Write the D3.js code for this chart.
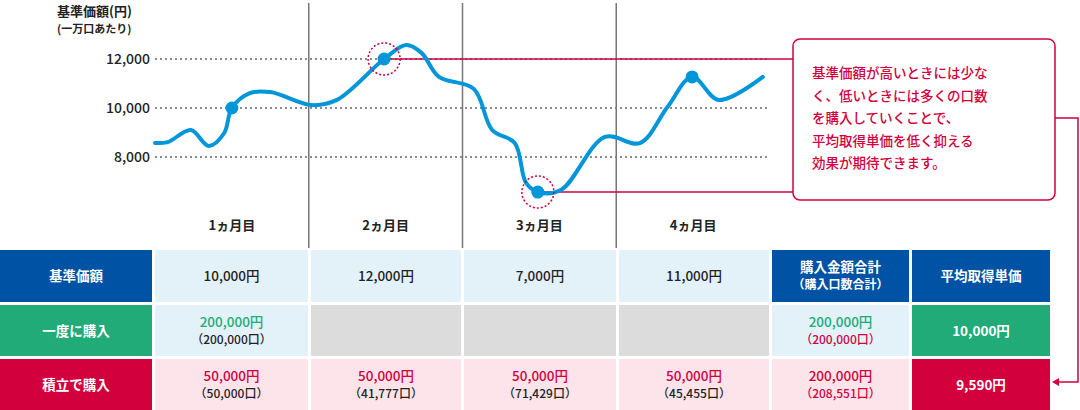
<!DOCTYPE html>
<html><head><meta charset="utf-8">
<script src="https://cdn.jsdelivr.net/npm/d3@7"></script>
<style>body{margin:0;background:#fff}svg{font-family:"Noto Sans CJK JP","Noto Sans",sans-serif}</style>
</head><body><svg id="c" width="1080" height="410"></svg>
<script>
const days=[0,2.5,7,10.5,13.5,15,18.5,22.5,30.5,35.5,44.7,49,52,55.4,62.2,65.8,70.2,72.4,74.7,79.2,87.8,94.6,100,104.8,110,118.6];
const prices=[8570,8610,9100,8450,8980,10000,10610,10650,10120,10330,12000,12570,12250,11270,10780,9100,8570,6940,6570,6650,8820,8570,10040,11270,10330,11270];
const buyDays=[15,44.7,74.7,104.8];
const buyPrices=[10000,12000,6570,11270];
const yTicks=[8000,10000,12000];
const monthLabels=["1ヵ月目","2ヵ月目","3ヵ月目","4ヵ月目"];
const monthBounds=[30,60,90];
const rowHeads=["基準価額","一度に購入","積立で購入"];
const rowBasePrice=["10,000円","12,000円","7,000円","11,000円"];
const lumpCells=[["200,000円","（200,000口）"],null,null,null];
const dcaCells=[["50,000円","（50,000口）"],["50,000円","（41,777口）"],["50,000円","（71,429口）"],["50,000円","（45,455口）"]];
const totals=[["購入金額合計","（購入口数合計）"],["200,000円","（200,000口）"],["200,000円","（208,551口）"]];
const avgs=["平均取得単価","10,000円","9,590円"];
const note=["基準価額が高いときには少な","く、低いときには多くの口数","を購入していくことで、","平均取得単価を低く抑える","効果が期待できます。"];

const BLUE="#0052a4",GREEN="#20ab78",RED="#d2003c",LB="#e3f1f9",PINK="#fde4eb",GRAY="#dcdcdc",LINE="#0096d9",TXT="#222";
const svg=d3.select("#c");
const x=d3.scaleLinear().domain([0,120]).range([155,770]);
const y=d3.scaleLinear().domain([8000,12000]).range([157,59]);

// grid
yTicks.forEach(v=>{
  svg.append("line").attr("x1",155).attr("x2",770).attr("y1",y(v)).attr("y2",y(v)).attr("stroke","#666").attr("stroke-width",1.5).attr("stroke-dasharray","2,3");
  svg.append("text").attr("x",150).attr("y",y(v)+5).attr("text-anchor","end").attr("font-size",14).attr("font-weight",500).attr("fill",TXT).text(d3.format(",")(v));
});
svg.append("text").attr("x",57).attr("y",16).attr("font-size",13).attr("font-weight",700).attr("fill",TXT).text("基準価額(円)");
svg.append("text").attr("x",57).attr("y",33).attr("font-size",11).attr("font-weight",700).attr("fill",TXT).text("(一万口あたり)");
monthBounds.forEach(d=>svg.append("line").attr("x1",x(d)).attr("x2",x(d)).attr("y1",3).attr("y2",248).attr("stroke","#777").attr("stroke-width",1.5));
monthLabels.forEach((m,i)=>svg.append("text").attr("x",x(15+30*i)).attr("y",230).attr("text-anchor","middle").attr("font-size",13).attr("font-weight",700).attr("fill",TXT).text(m));

// red connectors
svg.append("line").attr("x1",x(buyDays[1])).attr("x2",793).attr("y1",y(buyPrices[1])).attr("y2",y(buyPrices[1])).attr("stroke",RED).attr("stroke-width",1.5);
svg.append("line").attr("x1",x(buyDays[2])).attr("x2",793).attr("y1",y(buyPrices[2])).attr("y2",y(buyPrices[2])).attr("stroke",RED).attr("stroke-width",1.5);
svg.append("path").attr("d","M1055,118H1078V382H1058").attr("fill","none").attr("stroke",RED).attr("stroke-width",1.5);
svg.append("path").attr("d","M1052,382l7,-4v8z").attr("fill",RED);
svg.append("rect").attr("x",793).attr("y",39).attr("width",262).attr("height",161).attr("rx",7).attr("fill","#fff").attr("stroke",RED).attr("stroke-width",1.5);
note.forEach((t,i)=>svg.append("text").attr("x",812).attr("y",78+i*22.5).attr("font-size",13.5).attr("font-weight",500).attr("fill",RED).text(t));

// line
svg.append("path").datum(days.map((d,i)=>[d,prices[i]])).attr("d",d3.line().x(d=>x(d[0])).y(d=>y(d[1])).curve(d3.curveCatmullRom.alpha(0.5)))
  .attr("fill","none").attr("stroke",LINE).attr("stroke-width",4).attr("stroke-linecap","round");
[1,2].forEach(i=>svg.append("circle").attr("cx",x(buyDays[i])).attr("cy",y(buyPrices[i])).attr("r",16).attr("fill","none").attr("stroke",RED).attr("stroke-width",1.5).attr("stroke-dasharray","2,2"));
buyDays.forEach((d,i)=>svg.append("circle").attr("cx",x(d)).attr("cy",y(buyPrices[i])).attr("r",6.5).attr("fill",LINE));

// table
const cols=[[0,152],[155,153],[311,150],[464,152],[619,150],[772,137],[912,138]];
const rows=[[250,52],[305,51],[359,51]];
function cell(c,r,fill){svg.append("rect").attr("x",cols[c][0]).attr("y",rows[r][0]).attr("width",cols[c][1]).attr("height",rows[r][1]).attr("fill",fill);}
function txt(c,r,lines,color,w){
  const cx=cols[c][0]+cols[c][1]/2, cy=rows[r][0]+rows[r][1]/2;
  if(lines.length==1) svg.append("text").attr("x",cx).attr("y",cy+5).attr("text-anchor","middle").attr("font-size",13.5).attr("font-weight",w||500).attr("fill",color).text(lines[0]);
  else lines.forEach((l,k)=>svg.append("text").attr("x",cx).attr("y",cy-4+k*20-(k?3:0)).attr("text-anchor","middle").attr("font-size",k?12:13.5).attr("font-weight",w||500).attr("fill",k?(color===GREEN&&c<5?TXT:(color===GREEN?RED:(color===RED&&c<5?TXT:color))):color).text(l));
}
const headFill=[BLUE,GREEN,RED];
rowHeads.forEach((h,r)=>{cell(0,r,headFill[r]);txt(0,r,[h],"#fff",700);});
rowBasePrice.forEach((v,i)=>{cell(i+1,0,LB);txt(i+1,0,[v],TXT);});
lumpCells.forEach((v,i)=>{cell(i+1,1,v?LB:GRAY);if(v)txt(i+1,1,v,GREEN);});
dcaCells.forEach((v,i)=>{cell(i+1,2,PINK);txt(i+1,2,v,RED);});
cell(5,0,BLUE);txt(5,0,totals[0],"#fff",700);
cell(5,1,LB);txt(5,1,totals[1],GREEN);
cell(5,2,PINK);txt(5,2,totals[2],RED);
cell(6,0,BLUE);txt(6,0,[avgs[0]],"#fff",700);
cell(6,1,GREEN);txt(6,1,[avgs[1]],"#fff",700);
cell(6,2,RED);txt(6,2,[avgs[2]],"#fff",700);
</script></body></html>
